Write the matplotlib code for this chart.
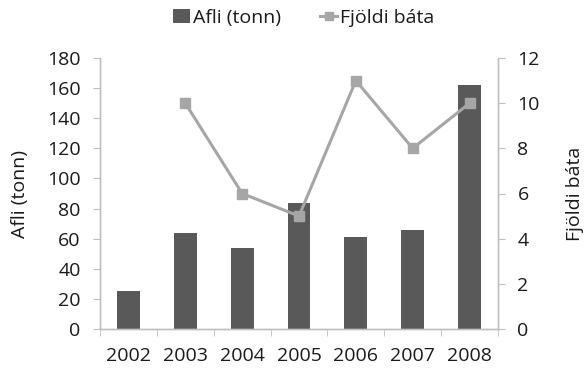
import matplotlib
matplotlib.use("Agg")
import matplotlib.pyplot as plt
from matplotlib.lines import Line2D
from matplotlib.patches import Patch
import numpy as np

plt.rcParams['font.family'] = ['Open Sans', 'DejaVu Sans']

years = ["2002", "2003", "2004", "2005", "2006", "2007", "2008"]
catch_tonnes = [25, 64, 54, 84, 61, 66, 162]
boats = [np.nan, 10, 6, 5, 11, 8, 10]

bar_color = "#595959"
line_color = "#a6a6a6"
axis_color = "#bfbfbf"
text_color = "#1a1a1a"
fs = 14

fig = plt.figure(figsize=(5.84, 3.74), dpi=100)
ax = fig.add_axes([100 / 584, 1 - 329 / 374, 398 / 584, 271 / 374])
ax2 = ax.twinx()

x = np.arange(len(years))
ax.bar(x, catch_tonnes, width=0.4, color=bar_color, zorder=2)
ax2.plot(x, boats, color=line_color, lw=2.2, marker="s", ms=6.5,
         markeredgecolor=line_color, zorder=3)

ax.set_xlim(-0.5, len(years) - 0.5)
ax.set_ylim(0, 180)
ax.set_yticks(np.arange(0, 181, 20))
ax2.set_ylim(0, 12)
ax2.set_yticks(np.arange(0, 13, 2))

ax.set_xticks(x)
ax.set_xticklabels(years)
ax.set_xticks(np.arange(-0.5, len(years), 1), minor=True)
ax.tick_params(axis="x", which="major", length=0, pad=13, labelsize=fs,
               labelcolor=text_color)
ax.tick_params(axis="x", which="minor", length=5, color=axis_color, direction="out")
ax.tick_params(axis="y", length=5, color=axis_color, labelsize=fs,
               labelcolor=text_color, pad=9)
ax2.tick_params(axis="y", length=5, color=axis_color, labelsize=fs,
                labelcolor=text_color, pad=9)

for a in (ax, ax2):
    a.spines["top"].set_visible(False)
    for s in ("left", "right", "bottom"):
        a.spines[s].set_color(axis_color)
        a.spines[s].set_linewidth(1.0)

ax.set_ylabel("Afli (tonn)", fontsize=fs, color=text_color, labelpad=13)
ax2.set_ylabel("Fjöldi báta", fontsize=fs, color=text_color, rotation=90,
               labelpad=19)

handles = [
    Patch(facecolor=bar_color, label="Afli (tonn)"),
    Line2D([0], [0], color=line_color, lw=2.2, marker="s", ms=6,
           label="Fjöldi báta"),
]
fig.legend(handles=handles, loc="center", bbox_to_anchor=(0.52, 1 - 18 / 374),
           ncol=2, frameon=False, fontsize=fs, handlelength=0.9,
           handletextpad=0.15, columnspacing=2.0, labelcolor=text_color)

fig.savefig("out.png", dpi=100, facecolor="white")
